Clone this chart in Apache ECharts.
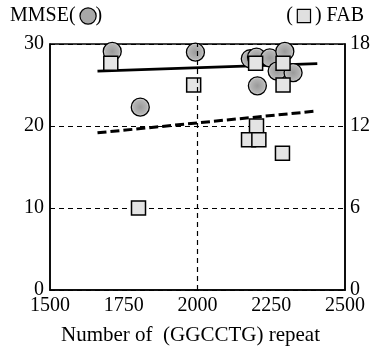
<!DOCTYPE html>
<html><head><meta charset="utf-8">
<script src="https://cdn.jsdelivr.net/npm/echarts@6/dist/echarts.min.js"></script>
<style>html,body{margin:0;padding:0;background:#fff}#c{width:374px;height:351px}</style>
</head><body><div id="c"></div>
<script>
// MMSE (left axis) points: [repeat count, score]
const mmseRepeat = [1711, 1806, 1993, 2179, 2200, 2245, 2296, 2270, 2324, 2203];
const mmseScore  = [29.1, 22.3, 29.0, 28.2, 28.4, 28.3, 29.1, 26.7, 26.5, 24.9];
// FAB (right axis) points
const fabRepeat = [1706, 1987, 1800, 2197, 2290, 2290, 2200, 2173, 2208, 2288];
const fabScore  = [16.6, 15.0, 6.0, 16.6, 16.6, 15.0, 12.0, 11.0, 11.0, 10.0];
// regression lines (end points)
const mmseTrendX = [1661, 2406];
const mmseTrendY = [26.7, 27.6];
const fabTrendX = [1661, 2406];
const fabTrendY = [11.5, 13.1];
// axes
const xMin = 1500, xMax = 2500, xStep = 250;
const leftMax = 30, leftStep = 10;
const rightMax = 18, rightStep = 6;

const FONT = '"Liberation Serif", "DejaVu Serif", serif';
const chart = echarts.init(document.getElementById('c'));
const zip = (a, b) => a.map((v, i) => [v, b[i]]);

chart.setOption({
  animation: false,
  backgroundColor: '#fff',
  textStyle: { fontFamily: FONT, color: '#000' },
  grid: { left: 50, right: 29, top: 44, bottom: 58, show: true, borderColor: '#000', borderWidth: 1.5, backgroundColor: 'transparent' },
  xAxis: {
    type: 'value', min: xMin, max: xMax, interval: xStep,
    name: 'Number of  (GGCCTG) repeat', nameLocation: 'middle', nameGap: 35,
    nameTextStyle: { fontFamily: FONT, fontSize: 21, color: '#000', padding: [0, 14, 0, 0] },
    axisLine: { show: true, lineStyle: { color: '#000', width: 1.5 } },
    axisTick: { show: false },
    splitLine: { show: false },
    axisLabel: { fontFamily: FONT, fontSize: 20, color: '#000', margin: 6, formatter: v => String(v) }
  },
  yAxis: [{
    type: 'value', min: 0, max: leftMax, interval: leftStep, position: 'left',
    axisLine: { show: true, lineStyle: { color: '#000', width: 1.5 } },
    axisTick: { show: false },
    splitLine: { show: true, lineStyle: { color: '#000', type: [5, 4], width: 1 } },
    axisLabel: { fontFamily: FONT, fontSize: 20, color: '#000', margin: 6 }
  }, {
    type: 'value', min: 0, max: rightMax, interval: rightStep, position: 'right',
    axisLine: { show: true, lineStyle: { color: '#000', width: 1.5 } },
    axisTick: { show: false },
    splitLine: { show: false },
    axisLabel: { fontFamily: FONT, fontSize: 20, color: '#000', margin: 5 }
  }],
  graphic: [{
    type: 'text', left: 10, top: 6,
    style: {
      text: 'MMSE( {c|})', font: '20px ' + FONT, fill: '#000',
      rich: { c: { width: 15, height: 15, backgroundColor: '#a8a8a8', borderColor: '#000', borderWidth: 1.2, borderRadius: 8 } }
    }
  }, {
    type: 'text', right: 10, top: 6,
    style: {
      text: '( {s|} ) FAB', font: '20px ' + FONT, fill: '#000',
      rich: { s: { width: 12, height: 12, backgroundColor: '#e0e0e0', borderColor: '#000', borderWidth: 1.2 } }
    }
  }],
  series: [{
    type: 'line', data: zip(mmseTrendX, mmseTrendY), yAxisIndex: 0, symbol: 'none', z: 1,
    lineStyle: { color: '#000', width: 2.8 },
    markLine: { silent: true, symbol: 'none', label: { show: false },
      lineStyle: { color: '#000', type: [5, 4], width: 1.2 }, data: [{ xAxis: 2000 }] }
  }, {
    type: 'line', data: zip(fabTrendX, fabTrendY), yAxisIndex: 1, symbol: 'none', z: 1,
    lineStyle: { color: '#000', width: 3, type: [9, 4] }
  }, {
    type: 'scatter', data: zip(mmseRepeat, mmseScore), yAxisIndex: 0, symbol: 'circle', symbolSize: 18, z: 3,
    itemStyle: {
      color: { type: 'radial', x: 0.5, y: 0.5, r: 0.5, colorStops: [{ offset: 0, color: '#9a9a9a' }, { offset: 0.7, color: '#b4b4b4' }, { offset: 1, color: '#e4e4e4' }] },
      borderColor: '#000', borderWidth: 1.3, opacity: 1
    }
  }, {
    type: 'scatter', data: zip(fabRepeat, fabScore), yAxisIndex: 1, symbol: 'rect', symbolSize: 14, z: 4,
    itemStyle: { color: '#e4e4e4', borderColor: '#000', borderWidth: 1.5, opacity: 1 }
  }]
});
</script></body></html>
